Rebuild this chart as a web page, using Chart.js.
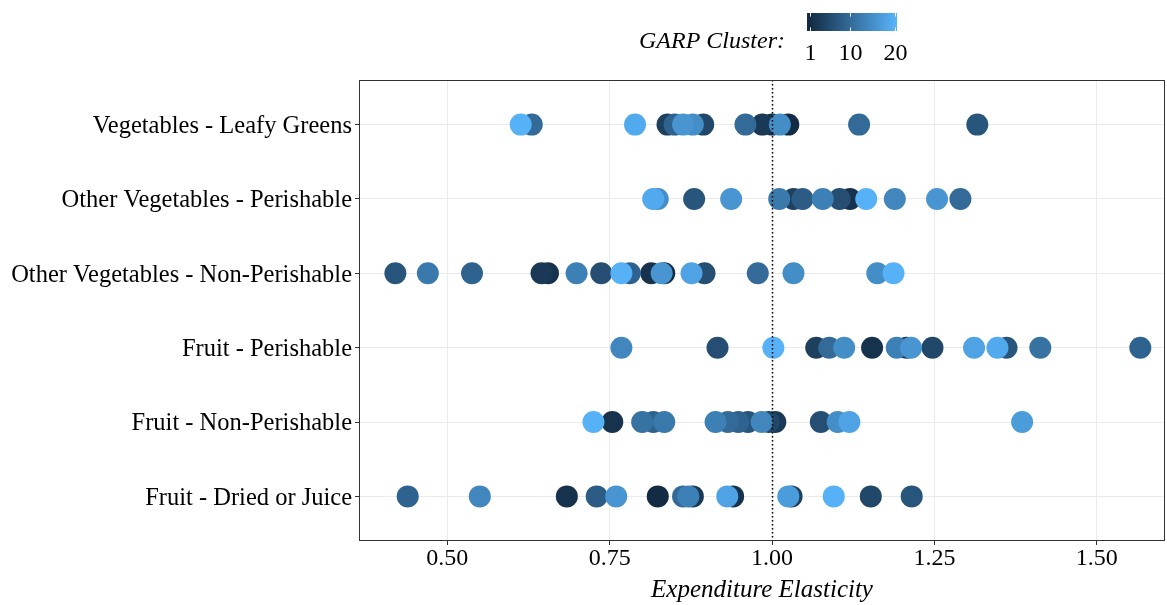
<!DOCTYPE html>
<html>
<head>
<meta charset="utf-8">
<title>Expenditure Elasticity by GARP Cluster</title>
<script src="https://cdn.jsdelivr.net/npm/chart.js@4.4.1/dist/chart.umd.min.js"></script>
<style>
    html, body { margin: 0; padding: 0; background: #fff; }
    #wrap { width: 1167px; height: 605px; position: relative; }
</style>
</head>
<body>
<div id="wrap"><canvas id="dotChart" width="1167" height="605"></canvas></div>
<script>
// food groups, top to bottom
const categories = [
    'Vegetables - Leafy Greens',
    'Other Vegetables - Perishable',
    'Other Vegetables - Non-Perishable',
    'Fruit - Perishable',
    'Fruit - Non-Perishable',
    'Fruit - Dried or Juice'
];

// elasticity estimates and the GARP cluster each one belongs to
const leafyGreensElast = [0.630, 0.613, 0.789, 0.839, 0.850, 0.894, 0.863, 0.878, 0.959, 0.985, 1.000, 1.025, 1.012, 1.134, 1.316];
const leafyGreensCluster = [10, 20, 19, 4, 9, 5, 16, 15, 10, 3, 2, 1, 15, 10, 7];

const vegPerishElast = [0.817, 0.824, 0.880, 0.937, 1.011, 1.033, 1.047, 1.078, 1.104, 1.120, 1.145, 1.189, 1.254, 1.290];
const vegPerishCluster = [19, 15, 7, 16, 12, 4, 8, 13, 6, 2, 20, 14, 16, 10];

const vegNonPerishElast = [0.420, 0.470, 0.538, 0.645, 0.655, 0.699, 0.737, 0.768, 0.781, 0.814, 0.830, 0.834, 0.876, 0.896, 0.978, 1.033, 1.162, 1.187];
const vegNonPerishCluster = [7, 12, 9, 3, 2, 13, 6, 20, 9, 2, 16, 1, 18, 6, 10, 15, 15, 20];

const fruitPerishElast = [0.768, 0.916, 1.002, 1.068, 1.088, 1.111, 1.154, 1.192, 1.207, 1.214, 1.247, 1.311, 1.347, 1.361, 1.413, 1.567];
const fruitPerishCluster = [14, 6, 20, 4, 10, 15, 2, 13, 3, 16, 5, 18, 19, 7, 11, 9];

const fruitNonPerishElast = [0.725, 0.754, 0.800, 0.817, 0.834, 0.913, 0.932, 0.948, 0.963, 0.984, 0.995, 1.005, 1.075, 1.101, 1.119, 1.385];
const fruitNonPerishCluster = [20, 2, 11, 9, 12, 13, 10, 9, 7, 14, 5, 3, 6, 15, 18, 17];

const fruitDriedElast = [0.439, 0.550, 0.684, 0.730, 0.760, 0.824, 0.863, 0.871, 0.878, 0.931, 0.940, 1.025, 1.030, 1.095, 1.152, 1.215];
const fruitDriedCluster = [9, 14, 2, 8, 16, 1, 10, 13, 3, 18, 2, 17, 4, 20, 5, 7];

const xTicks = [0.50, 0.75, 1.00, 1.25, 1.50];
const legendTicks = [1, 10, 20];

const elastByRow = [leafyGreensElast, vegPerishElast, vegNonPerishElast, fruitPerishElast, fruitNonPerishElast, fruitDriedElast];
const clusterByRow = [leafyGreensCluster, vegPerishCluster, vegNonPerishCluster, fruitPerishCluster, fruitNonPerishCluster, fruitDriedCluster];

const SERIF = '"Liberation Serif", "Times New Roman", serif';
const LOW = [0x13, 0x2B, 0x43];
const HIGH = [0x56, 0xB1, 0xF7];

function clusterColor(c) {
    const t = (c - 1) / 19;
    const rgb = LOW.map((lo, i) => Math.round(lo + (HIGH[i] - lo) * t));
    return 'rgb(' + rgb.join(',') + ')';
}

// one dataset per food group, higher clusters drawn last
const datasets = categories.map((name, row) => {
    const pts = elastByRow[row].map((v, i) => ({ x: v, y: row, c: clusterByRow[row][i] }));
    pts.sort((a, b) => a.c - b.c);
    return {
        label: name,
        data: pts,
        pointRadius: 11,
        pointHoverRadius: 11,
        pointBorderWidth: 0,
        pointBackgroundColor: ctx => clusterColor(ctx.raw ? ctx.raw.c : 1)
    };
});

// dotted reference line at unit elasticity
const unitLine = {
    id: 'unitLine',
    afterDatasetsDraw(chart) {
        const { ctx, chartArea, scales } = chart;
        const x = Math.round(scales.x.getPixelForValue(1.0)) + 0.5;
        ctx.save();
        ctx.strokeStyle = '#000';
        ctx.lineWidth = 1.5;
        ctx.setLineDash([1.5, 2.5]);
        ctx.beginPath();
        ctx.moveTo(x, chartArea.top);
        ctx.lineTo(x, chartArea.bottom);
        ctx.stroke();
        ctx.restore();
    }
};

// panel frame and colourbar legend
const frameAndLegend = {
    id: 'frameAndLegend',
    afterDraw(chart) {
        const { ctx, chartArea } = chart;
        ctx.save();
        ctx.strokeStyle = '#333333';
        ctx.lineWidth = 1;
        ctx.strokeRect(chartArea.left + 0.5, chartArea.top + 0.5,
            chartArea.right - chartArea.left - 1, chartArea.bottom - chartArea.top - 1);

        ctx.fillStyle = '#000';
        ctx.font = 'italic 24px ' + SERIF;
        ctx.textAlign = 'right';
        ctx.textBaseline = 'middle';
        ctx.fillText('GARP Cluster:', 785, 42);

        const barL = 807, barR = 897, barT = 13, barB = 31;
        const tickL = 809.7, tickR = 894.7;
        const grad = ctx.createLinearGradient(tickL, 0, tickR, 0);
        grad.addColorStop(0, clusterColor(1));
        grad.addColorStop(1, clusterColor(20));
        ctx.fillStyle = grad;
        ctx.fillRect(barL, barT, barR - barL, barB - barT);

        ctx.strokeStyle = 'rgba(255,255,255,0.9)';
        ctx.lineWidth = 1;
        ctx.font = '24px ' + SERIF;
        ctx.textAlign = 'center';
        legendTicks.forEach(c => {
            const x = Math.round(tickL + (c - 1) / 19 * (tickR - tickL)) + 0.5;
            ctx.beginPath();
            ctx.moveTo(x, barT); ctx.lineTo(x, barT + 3.6);
            ctx.moveTo(x, barB); ctx.lineTo(x, barB - 3.6);
            ctx.stroke();
            ctx.fillStyle = '#000';
            ctx.fillText(String(c), x, 54);
        });
        ctx.restore();
    }
};

new Chart(document.getElementById('dotChart'), {
    type: 'scatter',
    data: { datasets: datasets },
    options: {
        responsive: false,
        devicePixelRatio: 1,
        animation: false,
        events: [],
        layout: { autoPadding: false, padding: { left: 0, right: 2, top: 80, bottom: 0 } },
        plugins: { legend: { display: false }, tooltip: { enabled: false } },
        scales: {
            x: {
                type: 'linear',
                min: 0.364,
                max: 1.605,
                afterBuildTicks: scale => { scale.ticks = xTicks.map(v => ({ value: v })); },
                afterFit: scale => {
                    scale.height = 64;
                    scale.paddingLeft = 0;
                    scale.paddingRight = 0;
                },
                ticks: {
                    autoSkip: false,
                    maxRotation: 0,
                    padding: -1,
                    color: '#000',
                    font: { family: SERIF, size: 24 },
                    callback: v => Number(v).toFixed(2)
                },
                grid: { color: '#EBEBEB', lineWidth: 1, tickColor: '#333333', tickLength: 4 },
                border: { display: false },
                title: {
                    display: true,
                    text: 'Expenditure Elasticity',
                    color: '#000',
                    font: { family: SERIF, size: 25, style: 'italic' },
                    padding: { top: 2, bottom: 0 }
                }
            },
            y: {
                type: 'linear',
                min: -0.6,
                max: 5.6,
                reverse: true,
                afterBuildTicks: scale => { scale.ticks = categories.map((_, i) => ({ value: i })); },
                afterFit: scale => {
                    scale.width = 359;
                    scale.paddingTop = 0;
                    scale.paddingBottom = 0;
                },
                ticks: {
                    autoSkip: false,
                    padding: 3,
                    labelOffset: 2,
                    color: '#000',
                    font: { family: SERIF, size: 24.5 },
                    callback: v => categories[v]
                },
                grid: { color: '#EBEBEB', lineWidth: 1, tickColor: '#333333', tickLength: 4 },
                border: { display: false }
            }
        }
    },
    plugins: [unitLine, frameAndLegend]
});
</script>
</body>
</html>
